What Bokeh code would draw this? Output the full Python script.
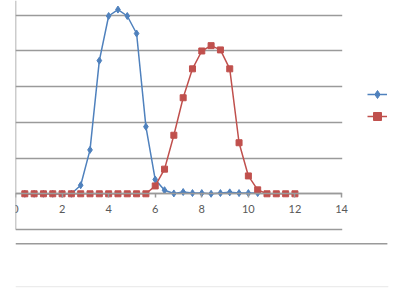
from bokeh.plotting import figure
from bokeh.models import (LinearAxis, Range1d, Grid, FixedTicker,
                          Legend, LegendItem, BoxAnnotation)
from bokeh.embed import file_html
from bokeh.resources import INLINE

# ---- data ----
x_blue = [0.4, 0.8, 1.2, 1.6, 2.0, 2.4, 2.8, 3.2, 3.6, 4.0, 4.4, 4.8, 5.2, 5.6,
          6.0, 6.4, 6.8, 7.2, 7.6, 8.0, 8.4, 8.8, 9.2, 9.6, 10.0, 10.4]
y_blue = [0, 0, 0, 0, 0, 0, 0.24, 1.23, 3.73, 4.98, 5.16, 4.98, 4.49, 1.88,
          0.40, 0.10, 0.01, 0.05, 0.02, 0.02, 0.0, 0.02, 0.04, 0.02, 0.02, 0.02]

x_red = [0.4, 0.8, 1.2, 1.6, 2.0, 2.4, 2.8, 3.2, 3.6, 4.0, 4.4, 4.8, 5.2, 5.6,
         6.0, 6.4, 6.8, 7.2, 7.6, 8.0, 8.4, 8.8, 9.2, 9.6, 10.0, 10.4,
         10.8, 11.2, 11.6, 12.0]
y_red = [0, 0, 0, 0, 0, 0, 0, 0, 0, 0, 0, 0, 0, 0,
         0.22, 0.69, 1.64, 2.69, 3.50, 4.00, 4.15, 4.03, 3.50, 1.43, 0.50, 0.11,
         0, 0, 0, 0]

x_ticks = [0, 2, 4, 6, 8, 10, 12, 14]
y_grid = [-1, 0, 1, 2, 3, 4, 5]

BLUE = "#4F81BD"
RED = "#C0504D"
GRID = "#9a9a9a"
FONT = "Lato"

p = figure(width=400, height=300, output_backend="svg", toolbar_location=None,
           x_axis_type=None, y_axis_type=None,
           x_range=Range1d(0, 16.533), y_range=Range1d(-2.989, 5.414),
           min_border_left=15, min_border_right=0, min_border_top=0,
           min_border_bottom=0)
p.outline_line_color = None
p.background_fill_color = "white"
p.border_fill_color = "white"

# horizontal gridlines, limited to the plot area by a white mask on the right
p.add_layout(Grid(dimension=1, ticker=FixedTicker(ticks=y_grid),
                  grid_line_color=GRID, grid_line_width=1.5))
p.add_layout(BoxAnnotation(left=14.03, right=16.6, bottom=-1.3, top=5.6,
                           fill_color="white", fill_alpha=1, line_color=None,
                           level="underlay"))

# vertical value axis line (labels are outside the picture)
ya = LinearAxis(fixed_location=0, bounds=(-1, 5.414), ticker=FixedTicker(ticks=[]),
                axis_line_color=GRID, axis_line_width=1.5,
                major_tick_line_color=None, minor_tick_line_color=None)
p.add_layout(ya, "left")

# x axis crossing at y=0
xa = LinearAxis(fixed_location=0, bounds=(0, 14), ticker=FixedTicker(ticks=x_ticks),
                axis_line_color=GRID, axis_line_width=1.5,
                major_tick_line_color=GRID, major_tick_line_width=1.5,
                major_tick_in=0, major_tick_out=4,
                minor_tick_line_color=None,
                major_label_text_font=FONT, major_label_text_font_size="11px",
                major_label_text_color="#595959", major_label_standoff=7)
p.add_layout(xa, "below")

# series
bl = p.line(x_blue, y_blue, line_color=BLUE, line_width=1.5)
bs = p.scatter(x_blue, y_blue, marker="diamond", size=7, fill_color=BLUE, line_color=BLUE)
rl = p.line(x_red, y_red, line_color=RED, line_width=1.5)
rs = p.scatter(x_red, y_red, marker="square", size=6, fill_color=RED, line_color=RED)

# chart-area border lines below the plot
p.add_layout(BoxAnnotation(left=0, right=15.97, bottom=-1.42, top=-1.38,
                           fill_color=GRID, fill_alpha=1, line_color=None))
p.add_layout(BoxAnnotation(left=0, right=16.01, bottom=-2.62, top=-2.58,
                           fill_color="#ececec", fill_alpha=1, line_color=None))

legend = Legend(items=[LegendItem(label=" ", renderers=[bl, bs]),
                       LegendItem(label=" ", renderers=[rl, rs])],
                location=(352, 174), border_line_color=None,
                background_fill_alpha=0, padding=0, margin=0, spacing=2,
                glyph_width=20, glyph_height=20, label_height=20,
                label_standoff=0, label_text_font_size="11px")
p.add_layout(legend, "center")

open("out.html", "w").write(file_html(p, INLINE))
